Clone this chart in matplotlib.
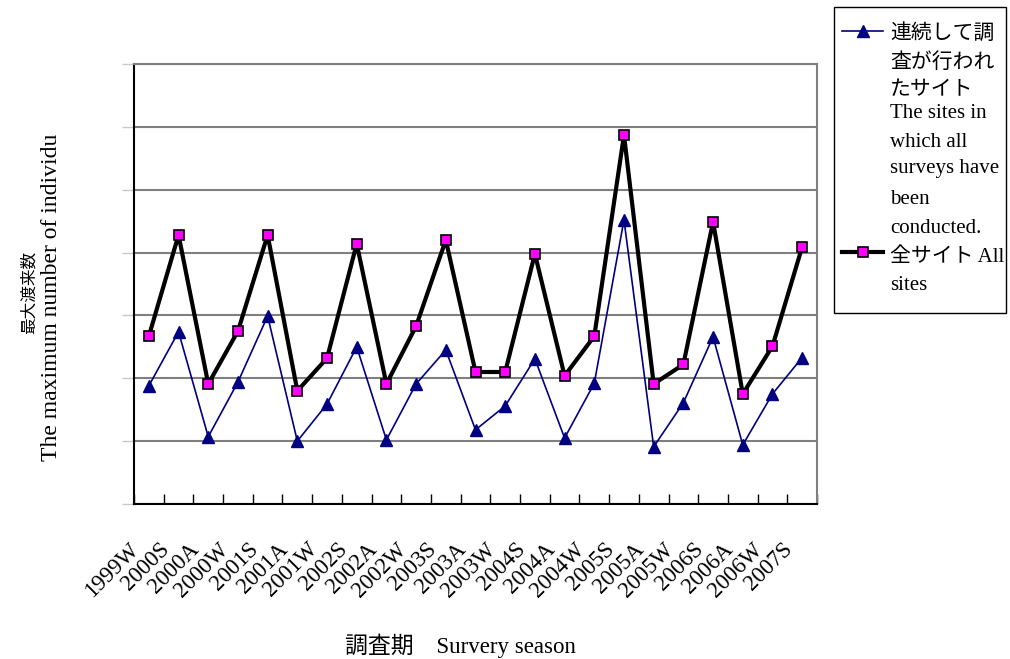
import matplotlib
matplotlib.use('Agg')
import matplotlib.pyplot as plt
from matplotlib.lines import Line2D
from matplotlib.patches import Rectangle
import matplotlib.transforms as mtransforms

plt.rcParams['font.family'] = ['Liberation Serif', 'Noto Sans CJK JP']

seasons = ['1999W', '2000S', '2000A', '2000W', '2001S', '2001A', '2001W', '2002S',
           '2002A', '2002W', '2003S', '2003A', '2003W', '2004S', '2004A', '2004W',
           '2005S', '2005A', '2005W', '2006S', '2006A', '2006W', '2007S']
consecutive_sites = [1.88, 2.74, 1.07, 1.94, 2.99, 1.00, 1.59, 2.50, 1.02, 1.91, 2.45, 1.18,
                     1.56, 2.31, 1.05, 1.92, 4.52, 0.91, 1.61, 2.66, 0.94, 1.75, 2.33]
all_sites = [2.67, 4.28, 1.91, 2.75, 4.28, 1.80, 2.32, 4.14, 1.91, 2.83, 4.20, 2.10,
             2.10, 3.98, 2.04, 2.67, 5.87, 1.91, 2.22, 4.49, 1.75, 2.51, 4.09]
grid_levels = [0, 1, 2, 3, 4, 5, 6, 7]

label_consec = ['連続して調', '査が行われ', 'たサイト', 'The sites in', 'which all',
                'surveys have', 'been', 'conducted.']
label_all = ['全サイト All', 'sites']
xlabel = '調査期\u3000Survery season'
ylabel_jp = '最大渡来数'
ylabel_en = 'The maximum number of individu'

W, H = 1010, 659
fig = plt.figure(figsize=(W / 100, H / 100), dpi=100)
fig.patch.set_facecolor('white')

def fx(x):
    return x / W

def fy(y):
    return 1 - y / H

L, R, T, B = 134, 817, 64, 504
ax = fig.add_axes([fx(L), fy(B), (R - L) / W, (B - T) / H])
x = list(range(len(seasons)))
ax.set_xlim(-0.5, len(seasons) - 0.5)
ax.set_ylim(grid_levels[0], grid_levels[-1])

ax.set_yticks(grid_levels)
ax.set_yticklabels([])
ax.yaxis.grid(True, color='#7f7f7f', lw=1.5)
ax.set_axisbelow(True)
ax.tick_params(axis='y', direction='out', length=9, width=1, color='#c8c8c8')

ax.set_xticks(x)
ax.set_xticklabels(seasons, rotation=45, ha='right', va='top', rotation_mode='anchor',
                   fontsize=16.5)
ax.set_xticks([i - 0.5 for i in range(len(seasons) + 1)], minor=True)
ax.tick_params(axis='x', which='major', length=0, pad=25)
ax.tick_params(axis='x', which='minor', direction='in', length=7, width=1, color='black')
offset = mtransforms.ScaledTranslation(-20 / 100, 0, fig.dpi_scale_trans)
for lbl in ax.get_xticklabels():
    lbl.set_transform(lbl.get_transform() + offset)

for s in ['left', 'bottom']:
    ax.spines[s].set_color('black')
    ax.spines[s].set_linewidth(1.5)
for s in ['top', 'right']:
    ax.spines[s].set_color('#7f7f7f')
    ax.spines[s].set_linewidth(1.5)

ax.plot(x, consecutive_sites, color='#000080', lw=1.2, marker='^', ms=9,
        mfc='#000080', mec='#000080', zorder=3, clip_on=False)
ax.plot(x, all_sites, color='black', lw=3, marker='s', ms=7.5,
        mfc='#ff00ff', mec='black', mew=1.2, zorder=4, clip_on=False)

# axis titles
fig.text(fx(460), fy(653), xlabel, ha='center', va='baseline', fontsize=16.5)
fig.text(fx(30), fy(292), ylabel_jp, rotation=90, ha='center', va='center', fontsize=12)
fig.text(fx(52), fy(297), ylabel_en, rotation=90, ha='center', va='center', fontsize=17)

# legend (drawn manually)
fig.add_artist(Rectangle((fx(834), fy(313)), (1006 - 834) / W, (313 - 7) / H,
                         transform=fig.transFigure, facecolor='white',
                         edgecolor='black', lw=1))
fig.add_artist(Line2D([fx(842), fx(883)], [fy(31), fy(31)], transform=fig.transFigure,
                      color='#000080', lw=1.2))
fig.add_artist(Line2D([fx(862.5)], [fy(31)], transform=fig.transFigure, marker='^',
                      ms=9, mfc='#000080', mec='#000080', lw=0))
fig.add_artist(Line2D([fx(842), fx(883)], [fy(252), fy(252)], transform=fig.transFigure,
                      color='black', lw=3))
fig.add_artist(Line2D([fx(862.5)], [fy(252)], transform=fig.transFigure, marker='s',
                      ms=7.5, mfc='#ff00ff', mec='black', mew=1.2, lw=0))
base1 = [39, 68, 95, 118, 147, 173, 204, 233]
for t, b in zip(label_consec, base1):
    fig.text(fx(890), fy(b), t, ha='left', va='baseline', fontsize=15)
base2 = [262, 290]
for t, b in zip(label_all, base2):
    fig.text(fx(890), fy(b), t, ha='left', va='baseline', fontsize=15)

fig.savefig('out.png', dpi=100)
